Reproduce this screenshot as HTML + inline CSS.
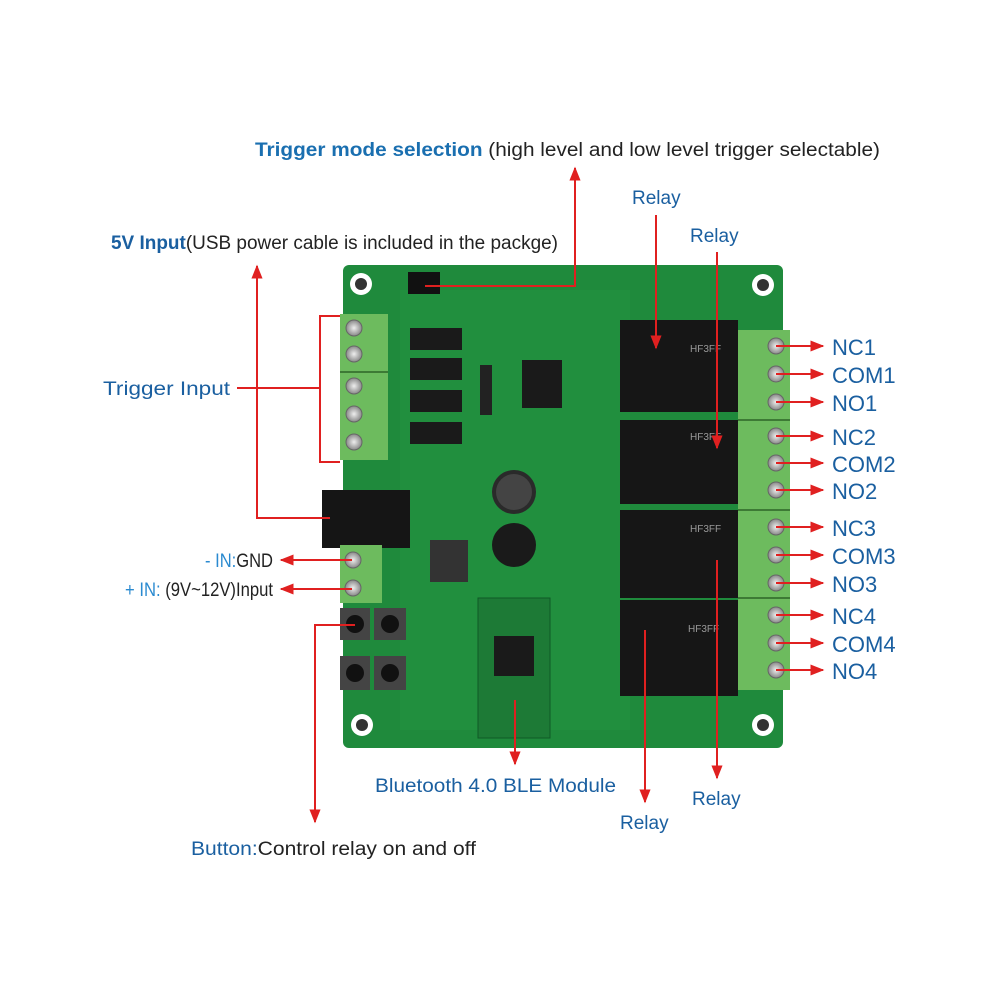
<!DOCTYPE html>
<html><head><meta charset="utf-8"><style>
html,body{margin:0;padding:0;background:#fff;width:1000px;height:1000px;overflow:hidden}
svg{display:block}
text{font-family:"Liberation Sans",sans-serif}
</style></head><body>
<svg width="1000" height="1000" viewBox="0 0 1000 1000" xmlns="http://www.w3.org/2000/svg">
<defs>
<marker id="a" viewBox="0 0 10 10" refX="9" refY="5" markerWidth="7" markerHeight="7" orient="auto-start-reverse"><path d="M0,1 L10,5 L0,9 z" fill="#e02020"/></marker>
<radialGradient id="sc"><stop offset="0" stop-color="#eee"/><stop offset="1" stop-color="#888"/></radialGradient>
</defs>
<rect x="343" y="265" width="440" height="483" rx="6" fill="#1f8a3c"/>
<rect x="400" y="290" width="230" height="440" fill="#23933f" opacity=".6"/>
<g fill="#fff"><circle cx="361" cy="284" r="11"/><circle cx="763" cy="285" r="11"/><circle cx="362" cy="725" r="11"/><circle cx="763" cy="725" r="11"/></g>
<g fill="#333"><circle cx="361" cy="284" r="6"/><circle cx="763" cy="285" r="6"/><circle cx="362" cy="725" r="6"/><circle cx="763" cy="725" r="6"/></g>
<rect x="340" y="314" width="48" height="146" fill="#6dbb5e"/>
<line x1="340" y1="372" x2="388" y2="372" stroke="#3d7a35" stroke-width="2"/>
<g fill="url(#sc)" stroke="#666"><circle cx="354" cy="328" r="8"/><circle cx="354" cy="354" r="8"/><circle cx="354" cy="386" r="8"/><circle cx="354" cy="414" r="8"/><circle cx="354" cy="442" r="8"/></g>
<g fill="#1a1a1a"><rect x="410" y="328" width="52" height="22"/><rect x="410" y="358" width="52" height="22"/><rect x="410" y="390" width="52" height="22"/><rect x="410" y="422" width="52" height="22"/></g>
<rect x="408" y="272" width="32" height="22" fill="#111"/>
<rect x="522" y="360" width="40" height="48" fill="#1a1a1a"/>
<rect x="480" y="365" width="12" height="50" fill="#222"/>
<circle cx="514" cy="492" r="22" fill="#2a2a2a"/><circle cx="514" cy="492" r="18" fill="#444"/>
<circle cx="514" cy="545" r="22" fill="#1a1a1a"/>
<rect x="430" y="540" width="38" height="42" fill="#333"/>
<rect x="322" y="490" width="88" height="58" fill="#151515"/>
<rect x="340" y="545" width="42" height="58" fill="#6dbb5e"/>
<g fill="url(#sc)" stroke="#666"><circle cx="353" cy="560" r="8"/><circle cx="353" cy="588" r="8"/></g>
<g fill="#444"><rect x="340" y="608" width="30" height="32"/><rect x="374" y="608" width="32" height="32"/><rect x="340" y="656" width="30" height="34"/><rect x="374" y="656" width="32" height="34"/></g>
<g fill="#111"><circle cx="355" cy="624" r="9"/><circle cx="390" cy="624" r="9"/><circle cx="355" cy="673" r="9"/><circle cx="390" cy="673" r="9"/></g>
<rect x="478" y="598" width="72" height="140" fill="#1d7a36" stroke="#0f5a26"/>
<rect x="494" y="636" width="40" height="40" fill="#1a1a1a"/>
<g fill="#161616"><rect x="620" y="320" width="118" height="92"/><rect x="620" y="420" width="118" height="84"/><rect x="620" y="510" width="118" height="88"/><rect x="620" y="600" width="118" height="96"/></g>
<g fill="#999" font-size="10"><text x="690" y="352">HF3FF</text><text x="690" y="440">HF3FF</text><text x="690" y="532">HF3FF</text><text x="688" y="632">HF3FF</text></g>
<rect x="738" y="330" width="52" height="360" fill="#6dbb5e"/>
<g stroke="#3d7a35" stroke-width="2"><line x1="738" y1="420" x2="790" y2="420"/><line x1="738" y1="510" x2="790" y2="510"/><line x1="738" y1="598" x2="790" y2="598"/></g>
<g fill="url(#sc)" stroke="#666">
<circle cx="776" cy="346" r="8"/><circle cx="776" cy="374" r="8"/><circle cx="776" cy="402" r="8"/>
<circle cx="776" cy="436" r="8"/><circle cx="776" cy="463" r="8"/><circle cx="776" cy="490" r="8"/>
<circle cx="776" cy="527" r="8"/><circle cx="776" cy="555" r="8"/><circle cx="776" cy="583" r="8"/>
<circle cx="776" cy="615" r="8"/><circle cx="776" cy="643" r="8"/><circle cx="776" cy="670" r="8"/></g>
<g stroke="#e02020" stroke-width="2" fill="none">
<path d="M575,168 V286 H425" marker-start="url(#a)"/>
<path d="M257,266 V518 H330" marker-start="url(#a)"/>
<path d="M237,388 H320 M340,316 H320 V462 H340"/>
<path d="M281,560 H352" marker-start="url(#a)"/>
<path d="M281,589 H352" marker-start="url(#a)"/>
<path d="M355,625 H315 V822" marker-end="url(#a)"/>
<path d="M515,700 V764" marker-end="url(#a)"/>
<path d="M656,215 V348" marker-end="url(#a)"/>
<path d="M717,252 V448" marker-end="url(#a)"/>
<path d="M717,560 V778" marker-end="url(#a)"/>
<path d="M645,630 V802" marker-end="url(#a)"/>
<g marker-end="url(#a)">
<path d="M776,346 H823"/><path d="M776,374 H823"/><path d="M776,402 H823"/>
<path d="M776,436 H823"/><path d="M776,463 H823"/><path d="M776,490 H823"/>
<path d="M776,527 H823"/><path d="M776,555 H823"/><path d="M776,583 H823"/>
<path d="M776,615 H823"/><path d="M776,643 H823"/><path d="M776,670 H823"/></g>
</g>
<g font-size="19" fill="#222">
<text x="255" y="156" textLength="625" lengthAdjust="spacingAndGlyphs"><tspan fill="#1a6fb0" font-weight="bold">Trigger mode selection</tspan> (high level and low level trigger selectable)</text>
<text x="111" y="249" textLength="447" lengthAdjust="spacingAndGlyphs"><tspan fill="#1a5fa0" font-weight="bold">5V Input</tspan>(USB power cable is included in the packge)</text>
<text x="103" y="395" fill="#1a5fa0" textLength="127" lengthAdjust="spacingAndGlyphs">Trigger Input</text>
<text x="205" y="567" textLength="68" lengthAdjust="spacingAndGlyphs"><tspan fill="#2a8ad0">- IN:</tspan>GND</text>
<text x="125" y="596" textLength="148" lengthAdjust="spacingAndGlyphs"><tspan fill="#2a8ad0">+ IN:</tspan> (9V~12V)Input</text>
<text x="191" y="855" textLength="285" lengthAdjust="spacingAndGlyphs"><tspan fill="#1a5fa0">Button:</tspan>Control relay on and off</text>
<text x="375" y="792" fill="#1a5fa0" textLength="241" lengthAdjust="spacingAndGlyphs">Bluetooth 4.0 BLE Module</text>
<text x="632" y="204" fill="#1a5fa0">Relay</text>
<text x="690" y="242" fill="#1a5fa0">Relay</text>
<text x="692" y="805" fill="#1a5fa0">Relay</text>
<text x="620" y="829" fill="#1a5fa0">Relay</text>
</g>
<g font-size="22" fill="#1a5fa0">
<text x="832" y="355">NC1</text><text x="832" y="383">COM1</text><text x="832" y="411">NO1</text>
<text x="832" y="445">NC2</text><text x="832" y="472">COM2</text><text x="832" y="499">NO2</text>
<text x="832" y="536">NC3</text><text x="832" y="564">COM3</text><text x="832" y="592">NO3</text>
<text x="832" y="624">NC4</text><text x="832" y="652">COM4</text><text x="832" y="679">NO4</text>
</g>
</svg>
</body></html>
